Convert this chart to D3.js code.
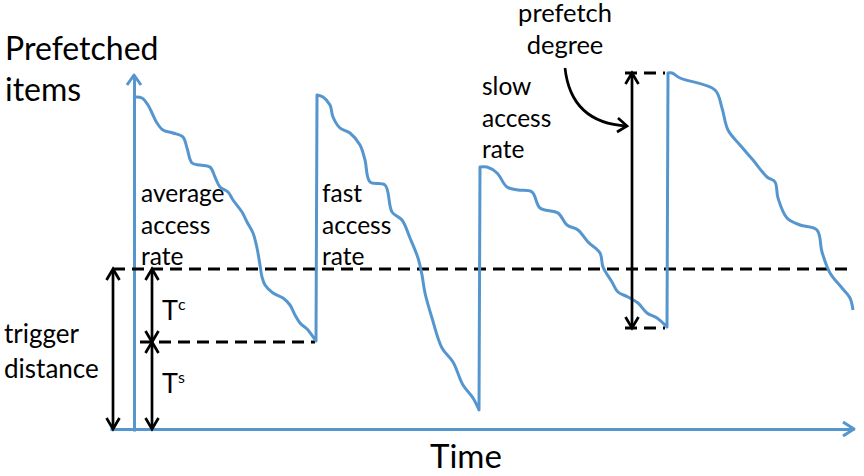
<!DOCTYPE html>
<meta charset="utf-8">
<style>
  body { margin: 0; background: #fff; }
  text { font-family: Lato, "Open Sans", sans-serif; fill: #000; }
</style>
<body>
<svg width="864" height="476"></svg>
<script src="https://d3js.org/d3.v7.min.js"></script>
<script>

// one array per refill cycle, points are [time, prefetched items]
var averageRate = [[0.5,83],[2,82.75],[3.5,81],[4.5,79],[5.75,76.5],[7.25,74.75],[9.75,74],[12.25,73],
  [13.25,70.25],[14.5,66.5],[16.5,66],[19,65.5],[20.25,63],[21.5,60.5],[23.5,59.25],[24.75,57.25],
  [27,54.25],[28.25,51.75],[29.75,49],[30.75,45.25],[31.5,41],[32,38],[32.75,36],[34.75,34],
  [37.25,32.75],[39,31],[40.25,28.5],[41.5,26.5],[43.5,24.75],[45.5,22]];
var fastRate = [[45.75,83.5],[47.25,83],[49,81],[49.75,78],[51.5,75.25],[54,74],[56.5,71],[57.75,67.25],
  [59,61.75],[62.75,61],[64.5,54.25],[67,52.25],[69,47.75],[71,42.75],[72,38.5],[72.75,34],
  [74.5,27.75],[77,20.25],[79.75,16.75],[82.25,11],[84.75,7.75],[86.25,4.75]];
var slowRate = [[86.5,65.5],[88.25,65.5],[90.75,64],[93.25,60.5],[96,59.75],[99.5,59.25],[101.5,55.25],
  [106,54],[108.25,51],[111,49.75],[113.5,46.75],[116.5,44],[117.25,40.5],[119.5,36.75],[121,34.25],
  [123.5,33],[126,31.5],[128.25,29],[130.75,27.75],[133.25,25.5]];
var lastCycle = [[133.5,89],[134.5,89],[136.5,87.75],[145.25,84.75],[147,80.25],[148.5,74.75],[151.5,71],
  [154.75,67.25],[158.25,63],[160.25,61.75],[161,57.75],[163.25,52.75],[166.5,51],[170.75,49.75],
  [172,44.25],[174,39],[177,35.25],[179,32.75],[179.75,29.75]];

// levels
var triggerLevel = 40;   // trigger distance
var tsLevel = 21.75;     // T^s
var degreeTop = 89, degreeBottom = 25.25;

var rateLabels = [["average", "access", "rate"], ["fast", "access", "rate"], ["slow", "access", "rate"]];

var svg = d3.select("svg"),
    blue = "#5596cf";

var x = d3.scaleLinear().domain([-6, 180]).range([110, 854]);
var y = d3.scaleLinear().domain([0, 100]).range([429, 29]);

svg.append("rect").attr("width", 864).attr("height", 476).attr("fill", "#fff");

// axes (no ticks, just the lines)
var yAxisScale = d3.scaleLinear().domain([0, 88.5]).range([y(0) + 2, y(88.5)]);
var gy = svg.append("g").attr("transform", "translate(" + x(0) + ",0)")
    .call(d3.axisLeft(yAxisScale).ticks(0).tickSizeOuter(0));
var xAxisScale = d3.scaleLinear().domain([-6, 180]).range([x(-6), x(180)]);
var gx = svg.append("g").attr("transform", "translate(0," + y(0) + ")")
    .call(d3.axisBottom(xAxisScale).ticks(0).tickSizeOuter(0));
svg.selectAll(".domain").attr("stroke", blue).attr("stroke-width", 3);

// blue arrow heads on axes
svg.append("path")
    .attr("d", "M" + (x(0) - 7) + "," + (y(88.5) + 10) + "L" + x(0) + "," + y(88.5) + "L" + (x(0) + 7) + "," + (y(88.5) + 10))
    .attr("fill", "none").attr("stroke", blue).attr("stroke-width", 3).attr("stroke-linejoin", "round");
svg.append("path")
    .attr("d", "M" + (x(180) - 11) + "," + (y(0) - 7) + "L" + x(180) + "," + y(0) + "L" + (x(180) - 11) + "," + (y(0) + 7))
    .attr("fill", "none").attr("stroke", blue).attr("stroke-width", 3).attr("stroke-linejoin", "round");

// dashed guide lines
function dashed(t0, t1, v) {
  svg.append("line")
      .attr("x1", x(t0)).attr("x2", x(t1)).attr("y1", y(v)).attr("y2", y(v))
      .attr("stroke", "#000").attr("stroke-width", 3).attr("stroke-dasharray", "12,7");
}
dashed(-5.25, 178.75, triggerLevel);
dashed(1.5, 45.25, tsLevel);
dashed(122.75, 132.75, degreeTop);
dashed(122.75, 132.75, degreeBottom);

// sawtooth
var line = d3.line()
    .x(function(d) { return x(d[0]); })
    .y(function(d) { return y(d[1]); })
    .curve(d3.curveCatmullRom.alpha(0.5));
var sawPath = [averageRate, fastRate, slowRate, lastCycle].map(function(c, i) {
  var s = line(c);
  return i ? "L" + s.slice(1) : s;
}).join("");
svg.append("path").attr("d", sawPath)
    .attr("fill", "none").attr("stroke", blue).attr("stroke-width", 3).attr("stroke-linejoin", "round");

// black double arrows
function dblArrow(t, v0, v1) {
  var px = x(t), a = y(v0), b = y(v1), up = Math.min(a, b), dn = Math.max(a, b);
  var g = svg.append("g").attr("fill", "none").attr("stroke", "#000").attr("stroke-width", 2.7);
  g.append("line").attr("x1", px).attr("x2", px).attr("y1", up + 1).attr("y2", dn - 1);
  g.append("path").attr("d", "M" + (px - 6.5) + "," + (up + 11) + "L" + px + "," + up + "L" + (px + 6.5) + "," + (up + 11));
  g.append("path").attr("d", "M" + (px - 6.5) + "," + (dn - 11) + "L" + px + "," + dn + "L" + (px + 6.5) + "," + (dn - 11));
}
dblArrow(-5.25, 0, triggerLevel);
dblArrow(4.5, tsLevel, triggerLevel);
dblArrow(4.5, 0, tsLevel);
dblArrow(124.5, degreeBottom, degreeTop);

// curved pointer from "prefetch degree"
var cs = [107.75, 90.25], cc = [109.25, 76.5], ce = [123.25, 75.75];
svg.append("path")
    .attr("d", "M" + x(cs[0]) + "," + y(cs[1]) + "Q" + x(cc[0]) + "," + y(cc[1]) + " " + x(ce[0]) + "," + y(ce[1]))
    .attr("fill", "none").attr("stroke", "#000").attr("stroke-width", 2.7);
svg.append("path")
    .attr("d", "M" + (x(ce[0]) - 9) + "," + (y(ce[1]) - 8) + "L" + x(ce[0]) + "," + y(ce[1]) + "L" + (x(ce[0]) - 10) + "," + (y(ce[1]) + 6))
    .attr("fill", "none").attr("stroke", "#000").attr("stroke-width", 2.7);

// text
function label(lines, px, py, size, step, anchor) {
  var t = svg.append("text").attr("x", px).attr("y", py).attr("font-size", size)
      .attr("text-anchor", anchor || "start");
  lines.forEach(function(s, i) {
    t.append("tspan").attr("x", px).attr("dy", i ? step : 0).text(s);
  });
}
label(["Prefetched", "items"], 5, 60, 32, 41);
label(rateLabels[0], 141, 202, 24.5, 31.5);
label(rateLabels[1], 322, 202, 24.5, 31.5);
label(rateLabels[2], 482, 95, 24.5, 31.5);
label(["prefetch", "degree"], 565, 22, 25.5, 32, "middle");
label(["trigger", "distance"], 4, 343, 26, 35);
label(["Time"], 466, 468, 33, 0, "middle");

function tLabel(sup, px, py) {
  var t = svg.append("text").attr("x", px).attr("y", py).attr("font-size", 27);
  t.append("tspan").text("T");
  t.append("tspan").attr("font-size", 16).attr("dy", -10).text(sup);
}
tLabel("c", 162, 320);
tLabel("s", 162, 393);

</script>
</body>
